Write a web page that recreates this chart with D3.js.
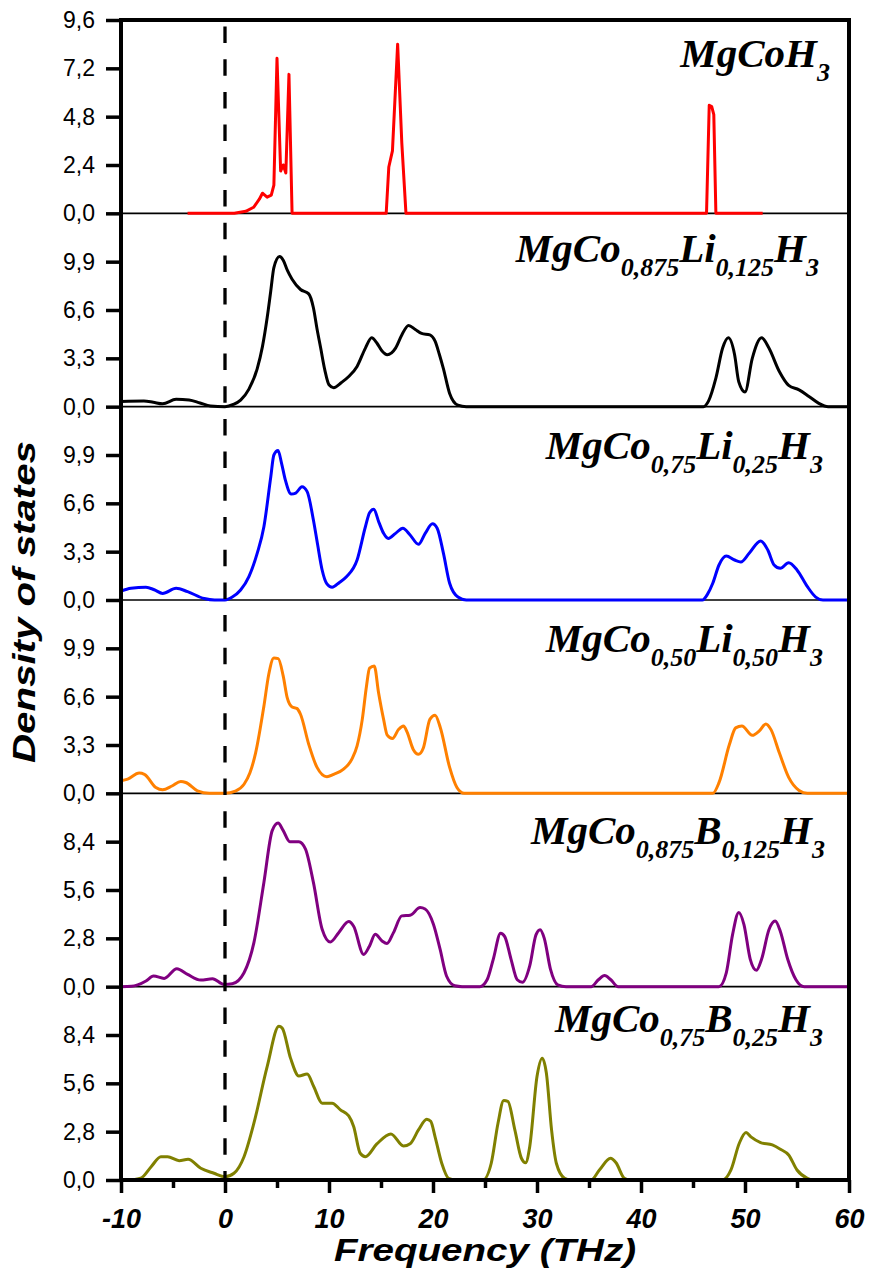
<!DOCTYPE html>
<html><head><meta charset="utf-8">
<script src="https://cdn.jsdelivr.net/npm/d3@7"></script>
<style>body{margin:0;background:#fff}</style>
</head><body>
<svg id="c" width="873" height="1279"></svg>
<script>
// ---------- DATA ----------
const freqTicks = [-10, 0, 10, 20, 30, 40, 50, 60];
const freqMinorTicks = [-5, 5, 15, 25, 35, 45, 55];
const ticksA = [0, 2.4, 4.8, 7.2, 9.6];
const ticksB = [0, 3.3, 6.6, 9.9];
const ticksC = [0, 2.8, 5.6, 8.4];

const mgcoh3 = [[-3.6,0],[0.9,0],[2.0,0.1],[2.75,0.3],[3.3,0.7],[3.6,1.0],[4.05,0.8],[4.45,0.9],[4.7,1.4],[5.0,7.7],[5.35,2.1],[5.6,2.4],[5.85,2.0],[6.15,6.9],[6.45,0],[15.5,0],[15.75,2.3],[16.1,3.1],[16.6,8.4],[17.0,3.5],[17.4,0],[46.3,0],[46.56,5.37],[46.8,5.3],[47.0,4.9],[47.2,0],[51.7,0]];

const li0125 = [[-10,0.35],[-7.8,0.38],[-6.9,0.3],[-6.0,0.2],[-4.7,0.5],[-3.45,0.45],[-2.4,0.25],[-1.4,0.05],[0,0],[0.8,0.15],[1.5,0.45],[2.3,1.2],[3.1,2.6],[3.6,4.1],[4.06,6.1],[4.4,7.9],[4.7,9.5],[5.25,10.25],[5.6,10.0],[6.0,9.3],[6.45,8.7],[7.26,8.0],[8.05,7.7],[8.5,6.75],[8.85,5.3],[9.2,4.0],[9.6,2.5],[10.0,1.5],[10.45,1.3],[11.2,1.65],[11.9,2.06],[12.7,2.75],[13.5,4.0],[14.1,4.7],[14.6,4.35],[15.1,3.8],[15.6,3.55],[16.4,4.0],[17.0,4.9],[17.65,5.55],[18.3,5.27],[18.9,5.0],[19.7,4.9],[20.2,4.47],[20.6,3.6],[21.0,2.6],[21.6,0.9],[22.4,0.1],[23.2,0],[46.0,0],[46.5,0.4],[47.2,1.95],[47.85,4.0],[48.4,4.7],[49.0,3.55],[49.4,1.7],[50.0,1.0],[50.7,3.3],[51.6,4.7],[52.3,4.0],[53.3,2.4],[54.2,1.45],[55.2,1.15],[56.15,0.7],[57.1,0.23],[58.0,0],[60,0]];

const li025 = [[-10,0.6],[-9.04,0.8],[-7.6,0.87],[-6.8,0.7],[-6.0,0.45],[-4.7,0.8],[-3.6,0.57],[-2.0,0.1],[-1,0],[0,0],[0.7,0.2],[1.5,0.68],[2.3,1.6],[3.1,3.2],[3.74,5.0],[4.4,8.4],[4.7,9.9],[5.1,10.2],[5.45,9.3],[5.8,8.2],[6.37,7.23],[6.8,7.3],[7.4,7.73],[7.9,7.4],[8.5,5.46],[8.9,3.8],[9.34,2.05],[9.8,1.1],[10.3,0.87],[11.0,1.2],[11.7,1.6],[12.7,2.73],[13.5,5.0],[13.9,5.96],[14.3,6.2],[14.8,5.3],[15.25,4.55],[15.7,4.2],[16.4,4.55],[17.1,4.9],[17.8,4.44],[18.6,3.8],[19.25,4.55],[19.95,5.2],[20.4,4.9],[21.0,3.2],[21.6,1.14],[22.4,0.2],[23.2,0],[45.9,0],[46.4,0.4],[46.9,1.14],[47.5,2.39],[48.2,3.0],[49.0,2.73],[49.6,2.6],[50.4,3.19],[51.5,4.03],[52.2,3.4],[52.8,2.39],[53.4,2.16],[54.2,2.55],[55.0,2.05],[56.0,0.91],[56.8,0.2],[57.5,0],[60,0]];

const li050 = [[-10,0.86],[-9.36,0.97],[-8.25,1.38],[-7.75,1.3],[-6.65,0.4],[-6.0,0.24],[-5.1,0.5],[-4.25,0.81],[-3.77,0.74],[-2.65,0.17],[-1.5,0],[0,0],[1.0,0.15],[1.83,0.62],[2.4,1.4],[2.95,2.78],[3.74,5.95],[4.2,8.1],[4.7,9.24],[5.12,9.2],[5.6,8.0],[5.98,6.53],[6.45,5.9],[6.9,5.8],[7.26,5.4],[8.05,3.35],[8.85,1.77],[9.8,1.13],[10.45,1.3],[11.4,1.65],[12.2,2.33],[12.7,3.24],[13.2,5.05],[13.6,7.3],[13.9,8.55],[14.35,8.7],[14.77,6.85],[15.25,5.05],[15.6,3.97],[16.1,3.74],[16.7,4.37],[17.16,4.6],[17.5,4.2],[18.1,3.0],[18.6,2.67],[19.07,3.1],[19.7,5.05],[20.2,5.33],[20.7,4.5],[21.6,1.77],[22.3,0.4],[23.0,0],[46.9,0],[47.5,0.73],[48.5,3.33],[49.1,4.47],[49.7,4.6],[50.7,3.96],[51.4,4.28],[52.0,4.74],[52.5,4.35],[53.3,2.77],[54.2,1.09],[55.2,0.2],[56,0],[60,0]];

const b0125 = [[-10,0],[-9,0.02],[-8.4,0.1],[-7.6,0.33],[-6.87,0.62],[-5.85,0.48],[-4.63,1.04],[-3.6,0.71],[-2.33,0.38],[-1.2,0.46],[-0.1,0.13],[0.7,0.17],[1.83,0.81],[2.78,2.55],[3.74,6.04],[4.54,9.04],[5.1,9.48],[5.6,9.04],[6.23,8.4],[7.1,8.4],[7.74,7.97],[8.5,6.04],[9.34,3.33],[10.13,2.59],[10.93,3.13],[11.9,3.77],[12.37,3.5],[13.33,1.87],[13.9,2.36],[14.45,3.03],[15.1,2.65],[15.57,2.5],[16.2,3.13],[17.0,4.1],[17.8,4.14],[18.76,4.58],[19.24,4.5],[20.04,3.62],[20.68,2.17],[21.3,0.62],[22.1,0.05],[22.8,0],[24.5,0],[25.2,0.4],[25.8,1.6],[26.5,3.1],[26.9,2.9],[27.5,1.6],[28.1,0.4],[28.6,0.25],[29.3,1.2],[29.9,3.0],[30.3,3.3],[30.7,2.8],[31.3,1.0],[32.0,0.1],[32.8,0],[35.2,0],[35.9,0.4],[36.5,0.65],[37.1,0.4],[37.8,0],[47.5,0],[48.2,0.8],[48.8,3.0],[49.4,4.3],[49.9,3.6],[50.5,1.6],[51.1,0.95],[51.6,1.6],[52.3,3.3],[52.9,3.8],[53.4,3.2],[54.1,1.6],[54.9,0.4],[55.7,0],[60,0]];

const b025 = [[-10,0],[-8.8,0.02],[-8.1,0.1],[-7.1,0.77],[-6.16,1.35],[-5.52,1.35],[-4.41,1.12],[-3.55,1.2],[-2.33,0.68],[-1.06,0.39],[0,0.19],[0.86,0.39],[1.83,1.35],[2.78,3.29],[4.06,6.58],[5.18,8.9],[5.5,8.8],[6.3,7.06],[7.1,6.03],[7.9,6.14],[8.53,5.42],[9.34,4.45],[10.3,4.45],[11.1,4.06],[11.9,3.71],[12.37,3.1],[13.0,1.55],[13.5,1.35],[14.6,2.09],[15.95,2.67],[17.16,1.97],[17.8,2.1],[18.6,2.9],[19.4,3.52],[19.78,3.4],[20.2,2.5],[20.84,0.97],[21.5,0.1],[22.3,0],[24.8,0],[25.6,0.97],[26.25,3.29],[26.8,4.6],[27.2,4.55],[27.87,2.9],[28.5,1.26],[28.9,1.0],[29.3,1.93],[30.0,6.0],[30.5,7.06],[30.9,6.2],[31.4,2.9],[31.86,0.97],[32.66,0.1],[33.3,0],[35.2,0],[36.0,0.58],[37.07,1.26],[37.6,1.0],[38.4,0.1],[39,0],[47.85,0],[48.65,0.58],[49.45,2.13],[50.1,2.75],[50.57,2.5],[51.5,2.17],[52.63,2.03],[53.4,1.78],[54.2,1.45],[55.0,0.58],[56.0,0.1],[56.6,0],[60,0]];

const labels = [
  [["MgCoH",0],["3",1]],
  [["MgCo",0],["0,875",1],["Li",0],["0,125",1],["H",0],["3",1]],
  [["MgCo",0],["0,75",1],["Li",0],["0,25",1],["H",0],["3",1]],
  [["MgCo",0],["0,50",1],["Li",0],["0,50",1],["H",0],["3",1]],
  [["MgCo",0],["0,875",1],["B",0],["0,125",1],["H",0],["3",1]],
  [["MgCo",0],["0,75",1],["B",0],["0,25",1],["H",0],["3",1]]
];
const seriesList = [mgcoh3, li0125, li025, li050, b0125, b025];
const colors = ["#ff0000", "#000000", "#0000ff", "#ff8000", "#800080", "#808000"];
const yMaxes = [9.6, 13.2, 13.2, 13.2, 11.2, 11.2];
const yTicksList = [ticksA, ticksB, ticksB, ticksB, ticksC, ticksC];
const xTitle = "Frequency (THz)";
const yTitle = "Density of states";

// ---------- LAYOUT ----------
const X0 = 121, X1 = 849, Y0 = 20, Y1 = 1180;
const titleBase = [47, 49, 52, 52, 51, 45];
const titleRight = [830, 819, 823, 823, 825, 823];
const svg = d3.select("#c");
const x = d3.scaleLinear().domain([-10, 60]).range([X0, X1]);
const ph = (Y1 - Y0) / 6;
const fmt = d => d3.format(".1f")(d).replace(".", ",");

const gPlot = svg.append("g");
const gAxes = svg.append("g");

seriesList.forEach((data, i) => {
  const top = Y0 + i * ph, bot = top + ph;
  const y = d3.scaleLinear().domain([0, yMaxes[i]]).range([bot, top]);
  if (i < 5) {
    gPlot.append("line").attr("x1", X0).attr("x2", X1).attr("y1", bot).attr("y2", bot)
      .attr("stroke", "#000").attr("stroke-width", 1.6);
  }
  const line = d3.line().x(d => x(d[0])).y(d => y(d[1]))
    .curve(i === 0 ? d3.curveLinear : d3.curveMonotoneX);
  gPlot.append("path").datum(data).attr("d", line)
    .attr("fill", "none").attr("stroke", colors[i]).attr("stroke-width", 3)
    .attr("stroke-linejoin", "round");

  const ax = gAxes.append("g").attr("transform", `translate(${X0},0)`)
    .call(d3.axisLeft(y).tickValues(yTicksList[i]).tickSize(15).tickPadding(11).tickFormat(fmt));
  ax.select(".domain").remove();
  ax.selectAll(".tick line").attr("stroke", "#000").attr("stroke-width", 3.5);
  ax.selectAll(".tick text").attr("font-family", "'Liberation Sans', Arial, sans-serif")
    .attr("font-size", 23).attr("fill", "#000");

  const t = gAxes.append("text").attr("x", titleRight[i]).attr("y", top + titleBase[i])
    .attr("text-anchor", "end")
    .attr("font-family", "'Liberation Serif', 'Times New Roman', serif")
    .attr("font-weight", "bold").attr("font-style", "italic").attr("fill", "#000");
  let prevSub = 0;
  labels[i].forEach(([s, sub]) => {
    const ts = t.append("tspan").text(s).attr("font-size", sub ? 26 : 41);
    const dy = (sub ? 14 : 0) - (prevSub ? 14 : 0);
    if (dy !== 0) ts.attr("dy", dy);
    prevSub = sub;
  });
});

gAxes.append("line").attr("x1", x(0)).attr("x2", x(0)).attr("y1", 26.5).attr("y2", Y1)
  .attr("stroke", "#000").attr("stroke-width", 3.3).attr("stroke-dasharray", "16.5,16.2");

gAxes.append("rect").attr("x", X0).attr("y", Y0).attr("width", X1 - X0).attr("height", Y1 - Y0)
  .attr("fill", "none").attr("stroke", "#000").attr("stroke-width", 4);

const xa = gAxes.append("g").attr("transform", `translate(0,${Y1})`)
  .call(d3.axisBottom(x).tickValues(freqTicks).tickSize(13).tickPadding(16).tickFormat(d => String(d)));
xa.select(".domain").remove();
xa.selectAll(".tick line").attr("stroke", "#000").attr("stroke-width", 3.5);
xa.selectAll(".tick text").attr("font-family", "'Liberation Sans', Arial, sans-serif")
  .attr("font-size", 27).attr("font-weight", "bold").attr("font-style", "italic").attr("fill", "#000");
const xm = gAxes.append("g").attr("transform", `translate(0,${Y1})`)
  .call(d3.axisBottom(x).tickValues(freqMinorTicks).tickSize(8).tickFormat(""));
xm.select(".domain").remove();
xm.selectAll(".tick line").attr("stroke", "#000").attr("stroke-width", 3.5);

gAxes.append("text").attr("x", 485).attr("y", 1261).attr("text-anchor", "middle")
  .attr("font-family", "'Liberation Sans', Arial, sans-serif").attr("font-size", 32)
  .attr("font-weight", "bold").attr("font-style", "italic")
  .attr("textLength", 302).attr("lengthAdjust", "spacingAndGlyphs").text(xTitle);
gAxes.append("text").attr("transform", "translate(35,602) rotate(-90)").attr("text-anchor", "middle")
  .attr("font-family", "'Liberation Sans', Arial, sans-serif").attr("font-size", 31)
  .attr("font-weight", "bold").attr("font-style", "italic")
  .attr("textLength", 322).attr("lengthAdjust", "spacingAndGlyphs").text(yTitle);
</script>
</body></html>
